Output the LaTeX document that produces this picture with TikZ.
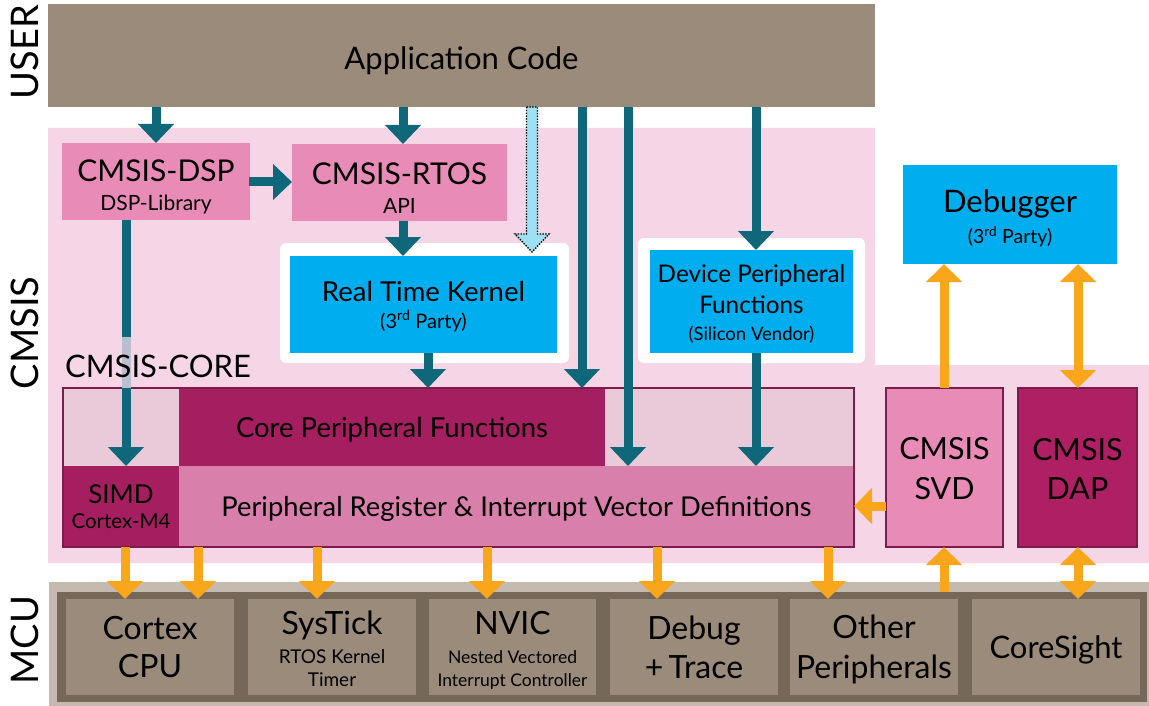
\documentclass[tikz,border=0pt]{standalone}
\usepackage{fontspec}
\setmainfont{Lato}
\usetikzlibrary{arrows.meta,calc}
\definecolor{appbrown}{HTML}{9B8B7A}
\definecolor{pinkbg}{HTML}{F6D6E6}
\definecolor{cmsispink}{HTML}{E88BB7}
\definecolor{bluebox}{HTML}{00AEEF}
\definecolor{darkmag}{HTML}{A51E5F}
\definecolor{dapmag}{HTML}{AE2063}
\definecolor{lightcell}{HTML}{EACAD9}
\definecolor{pregpink}{HTML}{D97FAB}
\definecolor{bordermag}{HTML}{7B1C4A}
\definecolor{tealc}{HTML}{0F6879}
\definecolor{orangec}{HTML}{F9A61B}
\definecolor{dotblue}{HTML}{9FE1F4}
\definecolor{mcuouter}{HTML}{C4BAAF}
\definecolor{mcuinner}{HTML}{766859}
\definecolor{fadeline}{HTML}{B9BFCF}
\newcommand\fs[1]{\fontsize{#1}{#1}\selectfont}
\newcommand\bx[6]{\node[box,#6,minimum width={#4-#2},minimum height={#5-#3}] (#1) at (#2,#3) {};}
\newcommand\tx[3]{\node[txt] (#1t) at ($(#1.center)+(0,#2)$) {#3};}
% one text line on a baseline: name, box, baseline, size, text
\newcommand\tl[5]{\node[txt, anchor=base] (#1) at (#2.center |- 0,#3) {\fs{#4}#5};}
\tikzset{
  box/.style={anchor=north west, inner sep=0pt, outer sep=0pt},
  txt/.style={inner sep=0pt, align=center, text=black},
  tarr/.style={draw=tealc, line width=9pt, -{Triangle[width=35pt,length=19pt]}},
  oarr/.style={draw=orangec, line width=9pt, -{Triangle[width=35pt,length=18pt]}},
  obiarr/.style={draw=orangec, line width=9pt, {Triangle[width=35pt,length=18pt]}-{Triangle[width=35pt,length=18pt]}},
  side/.style={rotate=90, font=\fs{38}, text=black},
  mcubox/.style={fill=appbrown},
}
\begin{document}
\begin{tikzpicture}[x=1pt,y=-1pt]
\useasboundingbox (0,0) rectangle (1149,706);
\fill[white] (0,0) rectangle (1149,706);
% side labels
\node[side] (luser) at (25,52) {USER};
\node[side] (lcmsis) at (25,333) {CMSIS};
\node[side] (lmcu) at (25,640) {MCU};
% pink CMSIS background
\fill[pinkbg] (48,128) -- (875,128) -- (875,365) -- (1149,365) -- (1149,563) -- (48,563) -- cycle;
% application code
\bx{app}{48}{4}{875}{107}{fill=appbrown}
\tx{app}{5}{\fs{31}Application Code}
% CMSIS DSP / RTOS
\bx{dsp}{62}{143}{250}{220}{fill=cmsispink}
\tx{dsp}{5.5}{\fs{30}CMSIS-DSP\\[12pt]\fs{21}DSP-Library}
\bx{rtos}{292}{144}{507}{221}{fill=cmsispink}
\tx{rtos}{5.5}{\fs{30}CMSIS-RTOS\\[12pt]\fs{21}API}
% real time kernel
\fill[white, rounded corners=6pt] (280,243) rectangle (569,363);
\bx{rtk}{290}{256}{557}{353}{fill=bluebox}
\tx{rtk}{2}{\fs{27.5}Real Time Kernel\\[8pt]\fs{20}(3\textsuperscript{rd} Party)}
% device peripheral functions
\fill[white, rounded corners=6pt] (638,238) rectangle (865,363);
\bx{dev}{650}{250}{853}{353}{fill=bluebox}
\tx{dev}{2.5}{\fs{24.3}Device Peripheral\\[8pt]\fs{24.3}Functions\\[11pt]\fs{18.5}(Silicon Vendor)}
% debugger
\bx{dbg}{903}{165}{1117}{264}{fill=bluebox}
\tx{dbg}{4}{\fs{31}Debugger\\[7pt]\fs{19.5}(3\textsuperscript{rd} Party)}
% CMSIS-CORE
\bx{core}{63}{388}{854}{547}{fill=pregpink}
\bx{ctl}{63}{388}{179}{466}{fill=lightcell}
\bx{cpf}{179}{388}{605}{466}{fill=darkmag}
\tx{cpf}{3}{\fs{27.5}Core Peripheral Functions}
\bx{ctr}{605}{388}{854}{466}{fill=lightcell}
\bx{simd}{63}{466}{179}{547}{fill=darkmag}
\tx{simd}{0.5}{\fs{26}SIMD\\[9pt]\fs{20.5}Cortex-M4}
\bx{preg}{179}{466}{854}{547}{fill=pregpink}
\tx{preg}{2}{\fs{27.3}Peripheral Register \& Interrupt Vector Definitions}
\draw[bordermag, line width=2pt] (core.north west) rectangle (core.south east);
% SVD / DAP
\bx{svd}{886}{388}{1003}{547}{fill=cmsispink, draw=bordermag, line width=2pt}
\tx{svd}{1}{\fs{30.5}CMSIS\\[16pt]\fs{30.5}SVD}
\bx{dap}{1018}{388}{1137}{547}{fill=dapmag, draw=bordermag, line width=2pt}
\tx{dap}{1}{\fs{30.5}CMSIS\\[16pt]\fs{30.5}DAP}
% MCU
\fill[mcuouter] (49,582) rectangle (1149,706);
\bx{mcu}{57}{592}{1147}{702}{fill=mcuinner}
\bx{cpu}{66}{599}{234}{695}{mcubox}
\tl{cpua}{cpu}{639}{32}{Cortex}
\tl{cpub}{cpu}{677}{32}{CPU}
\bx{systick}{248}{599}{416}{695}{mcubox}
\tl{sta}{systick}{634}{32}{SysTick}
\tl{stb}{systick}{663}{19}{RTOS Kernel}
\tl{stc}{systick}{686}{19}{Timer}
\bx{nvic}{429}{599}{596}{695}{mcubox}
\tl{nva}{nvic}{634}{32}{NVIC}
\tl{nvb}{nvic}{663}{17.5}{Nested Vectored}
\tl{nvc}{nvic}{686}{17.5}{Interrupt Controller}
\bx{dbgtr}{610}{599}{778}{695}{mcubox}
\tl{dta}{dbgtr}{639}{32}{Debug}
\tl{dtb}{dbgtr}{678}{32}{+\,Trace}
\bx{other}{790}{599}{958}{695}{mcubox}
\tl{ota}{other}{638}{32}{Other}
\tl{otb}{other}{678}{32}{Peripherals}
\bx{cs}{972}{599}{1140}{695}{mcubox}
\tl{csa}{cs}{658}{31}{CoreSight}
% teal arrows
\coordinate (xdsp) at (126,0);
\coordinate (xrtos) at (403,0);
\coordinate (xrtk) at (428,0);
\coordinate (xa) at (582,0);
\coordinate (xb) at (628,0);
\coordinate (xdev) at (756,0);
\coordinate (fadetop) at (126,337);
\draw[tarr] (app.south -| dsp.north) -- (dsp.north);
\draw[tarr] (app.south -| xrtos) -- (rtos.north -| xrtos);
\draw[tarr, shorten <=-1pt] (dsp.east |- 0,182) -- (rtos.west |- 0,182);
\draw[tarr] (rtos.south -| xrtos) -- (rtk.north -| xrtos);
\draw[tarr] (rtk.south -| xrtk) -- (core.north -| xrtk);
\draw[tarr] (app.south -| xa) -- (core.north -| xa);
\draw[tarr] (app.south -| xb) -- (preg.north -| xb);
\draw[tarr] (app.south -| xdev) -- (dev.north -| xdev);
\draw[tarr] (dev.south -| xdev) -- (preg.north -| xdev);
\draw[tarr] (dsp.south -| xdsp) -- (simd.north -| xdsp);
\draw[fadeline, line width=9pt] (fadetop) -- (core.north -| xdsp);
\node[anchor=west, inner sep=0pt, font=\fs{31}, text=black] (corelbl) at (65,366) {CMSIS-CORE};
% dotted light blue arrow
\coordinate (dtop) at (532,107);
\filldraw[fill=dotblue, draw=black, dash pattern=on 1.4pt off 1.4pt, line width=1.4pt]
  ($(dtop)+(-5.5,0)$) -- (526.5,234) -- (515,234) -- (532,252) -- (549,234) -- (537.5,234) -- (537.5,107) -- cycle;
% orange arrows
\foreach \x/\t in {125/cpu,198/cpu,317/systick,487/nvic,657/dbgtr,828/other}
  \draw[oarr] (core.south -| \x,0) -- (\t.north -| \x,0);
\coordinate (xsvd) at (944,0);
\coordinate (xdap) at (1078,0);
\draw[oarr] (mcu.north -| xsvd) -- (svd.south -| xsvd);
\draw[obiarr] (cs.north -| xdap) -- (dap.south -| xdap);
\draw[oarr] (svd.west |- 0,506) -- (core.east |- 0,506);
\draw[oarr] (svd.north -| xsvd) -- (dbg.south -| xsvd);
\draw[obiarr] (dap.north -| xdap) -- (dbg.south -| xdap);
\end{tikzpicture}
\end{document}
